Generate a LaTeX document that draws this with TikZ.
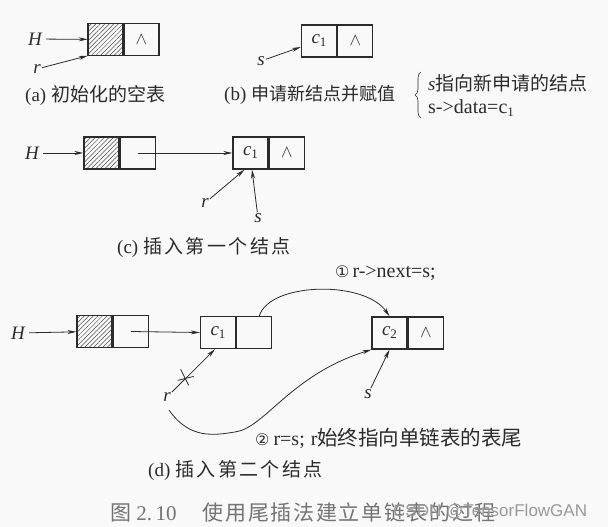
\documentclass[tikz,border=0pt]{standalone}
\usepackage{fontspec}
\setmainfont{Liberation Serif}
\newfontfamily\cjk{Noto Sans CJK SC}
\newfontfamily\cjkw[LetterSpace=13]{Noto Sans CJK SC}
\newfontfamily\cjkf[LetterSpace=8]{Noto Sans CJK SC}
\newfontfamily\dejavu{DejaVu Sans}
\newfontfamily\wmfont{Liberation Sans}
\usetikzlibrary{arrows.meta,patterns.meta,decorations.pathreplacing}
\definecolor{ink}{HTML}{2B2B2B}
\definecolor{bg}{HTML}{F9F9F9}
\newcommand{\nul}{{\fontsize{16}{16}\selectfont$\wedge$}}
\newcommand{\cval}[1]{{\fontsize{19}{19}\selectfont\textit{c}\raisebox{-3pt}{\fontsize{13}{13}\selectfont #1}}}
\begin{document}
\begin{tikzpicture}[x=1pt,y=-1pt,
  cell/.style={draw=ink,line width=1.3pt,minimum width=35pt,minimum height=32pt,inner sep=0pt,text=ink},
  hatch/.style={cell,pattern={Lines[angle=45,distance=3.2pt,line width=0.5pt]},pattern color=ink!85},
  arr/.style={draw=ink,line width=0.8pt,-{Stealth[length=9pt,width=4pt]}},
  lbl/.style={text=ink,inner sep=1pt,font=\fontsize{19}{21}\selectfont\itshape},
  captxt/.style={text=ink,inner sep=0pt,anchor=west,font=\fontsize{19}{21}\selectfont},
]
\fill[bg] (0,0) rectangle (608,527);

% (a)
\node[hatch] (a1) at (105.5,39.5) {};
\node[cell,anchor=west] (a2) at (a1.east) {\nul};
\node[lbl] (aH) at (35,39) {H};
\node[lbl] (ar) at (37,69) {r};
\draw[arr,shorten <=3pt] (aH) -- (a1);
\draw[arr] (ar) -- (a1.south west);
\node[captxt] (acap) at (25,95) {(a) {\cjk 初始化的空表}};

% (b)
\node[cell] (b1) at (319,41) {\cval{1}};
\node[cell,anchor=west] (b2) at (b1.east) {\nul};
\node[lbl] (bs) at (261,61) {s};
\draw[arr] (bs) -- ([yshift=-6pt]b1.west);
\node[captxt] (bcap) at (224,95) {(b) {\cjk\fontsize{18}{21}\selectfont 申请新结点并赋值}};
\draw[decorate,decoration={brace,amplitude=6pt},draw=ink,line width=0.6pt] (421,118) -- (421,72);
\node[captxt] (bt1) at (428,83) {\textit{s}{\cjk 指向新申请的结点}};
\node[captxt,font=\fontsize{20}{22}\selectfont] (bt2) at (428,108) {s->data=c\raisebox{-3pt}{\fontsize{13}{13}\selectfont 1}};

% (c)
\node[hatch] (c1) at (101.5,153) {};
\node[cell,anchor=west] (c2) at (c1.east) {};
\node[cell] (c3) at (250.5,153) {\cval{1}};
\node[cell,anchor=west] (c4) at (c3.east) {\nul};
\node[lbl] (cH) at (32,153) {H};
\node[lbl] (cr) at (205,203) {r};
\node[lbl] (cs) at (258,218) {s};
\draw[arr,shorten <=3pt] (cH) -- (c1);
\draw[arr] (c2.center) -- (c3.west);
\draw[arr] (cr) -- ([xshift=-6pt]c3.south);
\draw[arr] (cs) -- ([xshift=1.5pt]c3.south);
\node[captxt] (ccap) at (117,247) {(c) {\cjkw 插入第一个结点}};

% (d)
\node[hatch] (d1) at (94.5,331.5) {};
\node[cell,anchor=west] (d2) at (d1.east) {};
\node[cell] (d3) at (218,332.5) {\cval{1}};
\node[cell,anchor=west] (d4) at (d3.east) {};
\node[cell] (d5) at (389.5,333) {\cval{2}};
\node[cell,anchor=west] (d6) at (d5.east) {\nul};
\node[lbl] (dH) at (18,333) {H};
\node[lbl] (dr) at (167,397) {r};
\node[lbl] (ds) at (368,394) {s};
\coordinate (dr2) at (169,410);
\draw[arr,shorten <=3pt] (dH) -- (d1);
\draw[arr] (d2.center) -- (d3.west);
\draw[arr] ([xshift=5pt]d4.north) .. controls (270,282) and (365,280) .. (d5.north);
\node[captxt,font=\fontsize{20}{22}\selectfont] (l1) at (335,273) {{\dejavu\fontsize{16}{16}\selectfont ①}\hspace{3pt}r->next=s;};
\draw[arr] (dr) -- coordinate[pos=0.32] (xm) ([xshift=-3pt]d3.south);
\draw[draw=ink,line width=0.8pt] ([shift={(-5,-9)}]xm) -- ([shift={(3,7)}]xm);
\draw[draw=ink,line width=0.8pt] ([shift={(-8,2)}]xm) -- ([shift={(8,-2)}]xm);
\draw[arr] (dr2) .. controls (190,440) and (215,435) .. (235,432) .. controls (265,428) and (290,375) .. (d5.south west);
\draw[arr] (ds) -- (d5.south);
\node[captxt,font=\fontsize{20}{22}\selectfont] (l2) at (255,438) {{\dejavu\fontsize{16}{16}\selectfont ②}\hspace{4pt}r=s;\hspace{6pt}r{\cjk\fontsize{20.5}{22}\selectfont 始终指向单链表的表尾}};
\node[captxt] (dcap) at (148,470) {(d) {\cjkw 插入第二个结点}};

% figure caption
\node[captxt,text=black!55,font=\fontsize{21}{24}\selectfont] (fig) at (110,513) {{\cjk 图} 2.\,10\hspace{26pt}{\cjkf 使用尾插法建立单链表的过程}};
\node[anchor=west,inner sep=0pt,text=black!40,font=\wmfont\fontsize{17}{19}\selectfont] (wm) at (393,512) {CSDN @TensorFlowGAN};
\end{tikzpicture}
\end{document}
